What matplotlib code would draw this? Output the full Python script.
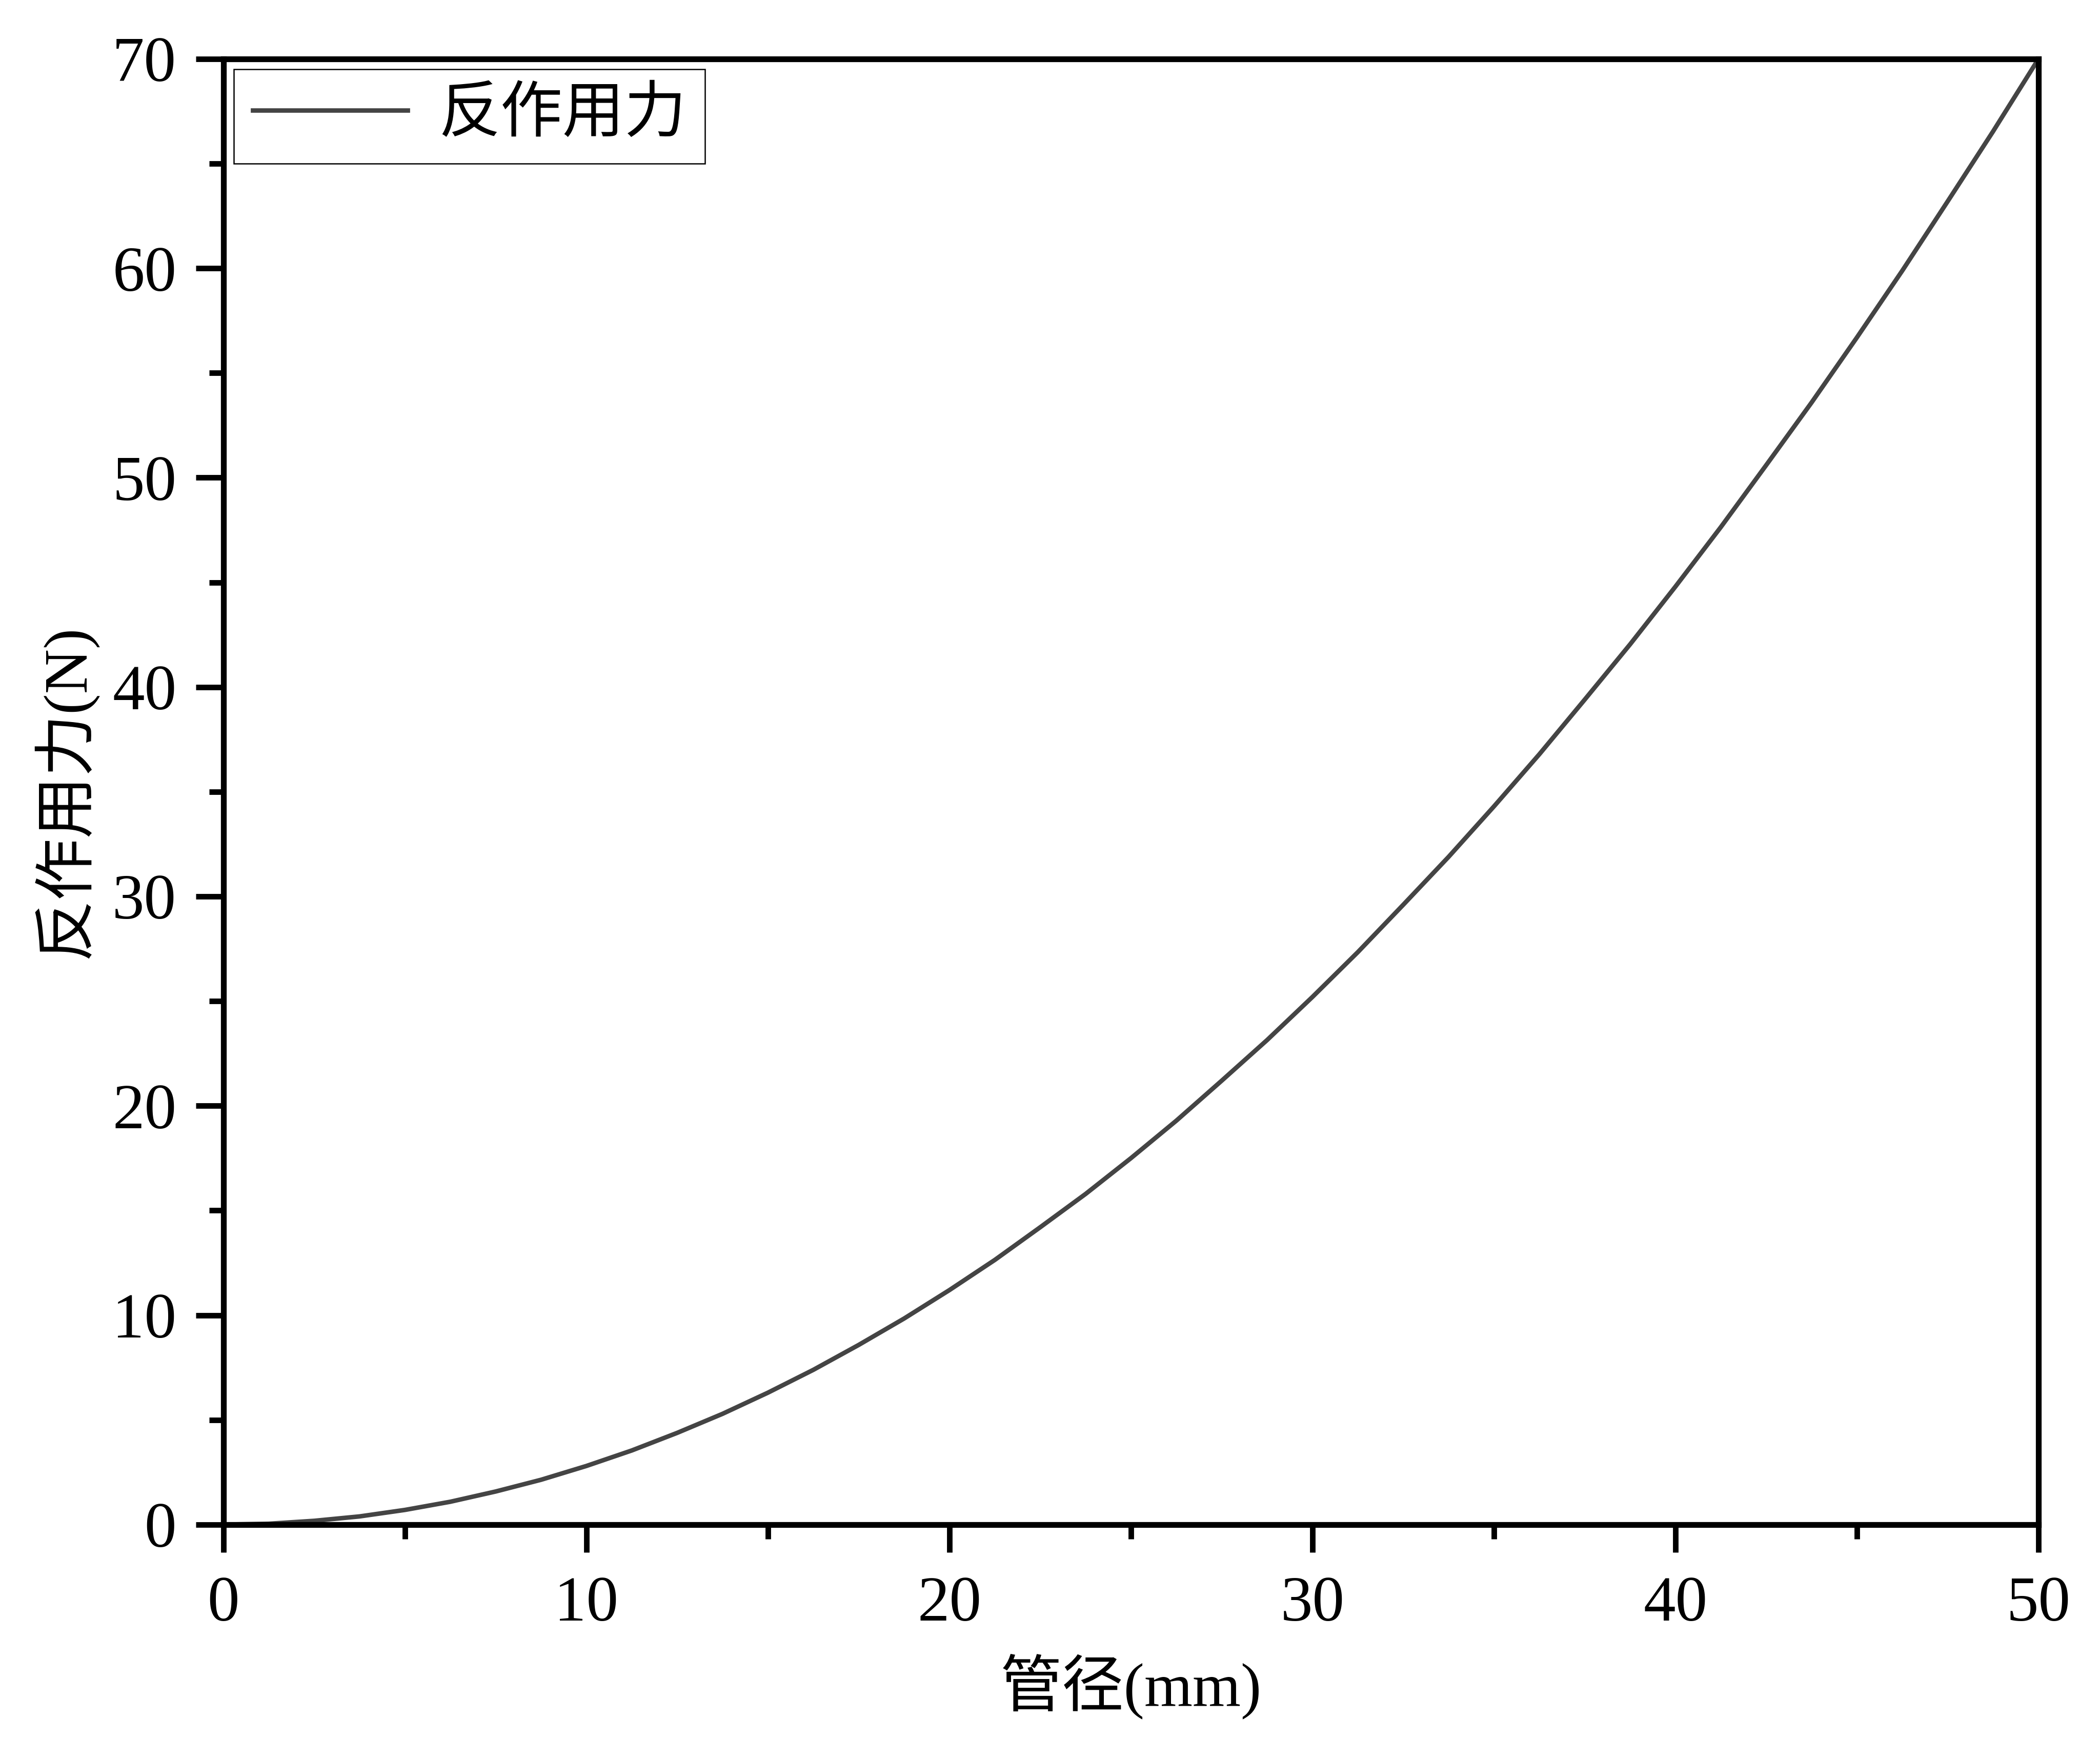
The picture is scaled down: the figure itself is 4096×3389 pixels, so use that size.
import matplotlib
matplotlib.use("Agg")
import matplotlib.pyplot as plt
from matplotlib.ticker import MultipleLocator

# values
diameter = [0, 1.25, 2.5, 3.75, 5, 6.25, 7.5, 8.75, 10, 11.25, 12.5,
            13.75, 15, 16.25, 17.5, 18.75, 20, 21.25, 22.5, 23.75, 25,
            26.25, 27.5, 28.75, 30, 31.25, 32.5, 33.75, 35, 36.25, 37.5,
            38.75, 40, 41.25, 42.5, 43.75, 45, 46.25, 47.5, 48.75, 50]
force = [0, 0.04, 0.18, 0.39, 0.7, 1.09, 1.58, 2.14, 2.8, 3.54, 4.38,
         5.29, 6.3, 7.39, 8.58, 9.84, 11.2, 12.64, 14.2, 15.79, 17.5,
         19.29, 21.2, 23.14, 25.2, 27.34, 29.6, 31.89, 34.3, 36.79, 39.4,
         42.04, 44.8, 47.64, 50.6, 53.59, 56.7, 59.89, 63.2, 66.54, 70]

series_label = "反作用力"
x_label = "管径(mm)"
y_label = "反作用力(N)"

plt.rcParams["font.family"] = ["Liberation Serif", "Noto Sans CJK SC"]

fig = plt.figure(figsize=(4096 / 300, 3389 / 300), dpi=300)
ax = fig.add_axes([0.1064, 0.1228, 0.8643, 0.8433])

ax.plot(diameter, force, color="#444444", linewidth=2.1, label=series_label)

ax.set_xlim(0, 50)
ax.set_ylim(0, 70)
ax.xaxis.set_major_locator(MultipleLocator(10))
ax.xaxis.set_minor_locator(MultipleLocator(5))
ax.yaxis.set_major_locator(MultipleLocator(10))
ax.yaxis.set_minor_locator(MultipleLocator(5))

for s in ax.spines.values():
    s.set_linewidth(2.7)
ax.tick_params(which="major", direction="out", length=13, width=2.6,
               labelsize=30, top=False, right=False)
ax.tick_params(which="minor", direction="out", length=6.8, width=2.6,
               top=False, right=False)
ax.tick_params(axis="x", which="major", pad=11)
ax.tick_params(axis="y", which="major", pad=9)

ax.set_xlabel(x_label, fontsize=29, labelpad=9)
ax.set_ylabel(y_label, fontsize=29, labelpad=7)

leg = ax.legend(loc="upper left", fontsize=29, frameon=True, fancybox=False,
                edgecolor="black", framealpha=1, handlelength=2.5,
                handletextpad=0.5, borderpad=0.3, borderaxespad=0.17)
leg.get_frame().set_linewidth(0.6)

fig.savefig("out.png", dpi=300)
plt.close(fig)
